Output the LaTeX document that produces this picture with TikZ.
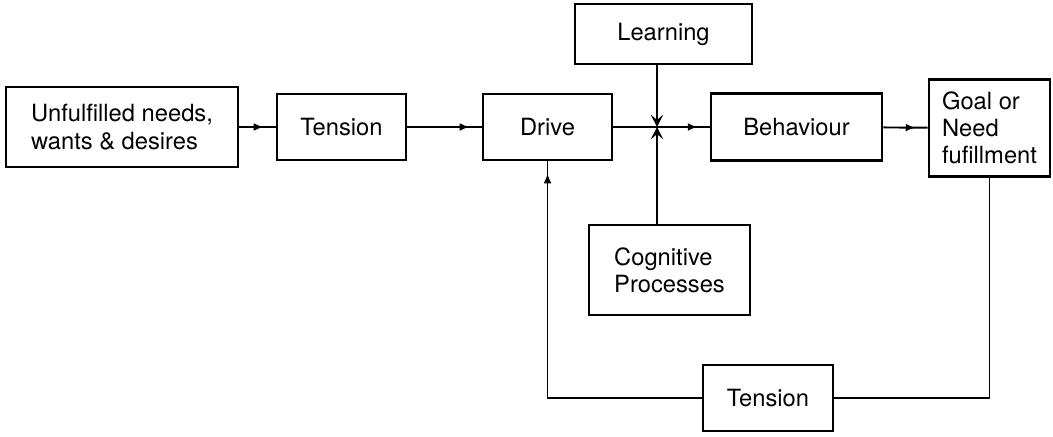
\documentclass[tikz,border=0pt]{standalone}
\usepackage{fontspec}
\setmainfont{TeX Gyre Heros}
\usetikzlibrary{arrows.meta,calc,decorations.markings}

\begin{document}
\begin{tikzpicture}[x=0.02cm,y=-0.02cm,>={Latex[length=5.5pt,width=4.5pt]},
                    font=\fontsize{13.5}{15.5}\selectfont]
				\tikzstyle{blk}=[draw, rectangle, line width=1.5pt, inner sep=0pt, align=left]
				\tikzstyle{conn}=[line width=1.1pt]
				\tikzstyle{flow}=[conn, postaction={decorate},
					decoration={markings, mark=at position -7pt with {\arrow{>}}}]
				\useasboundingbox (0,0) rectangle (1053,436);
					 \node[blk, minimum width=4.64cm, minimum height=1.6cm]  (unf)   at (122,127)   {Unfulfilled needs,\\wants \& desires};
					 \node[blk, minimum width=2.58cm, minimum height=1.32cm] (ten1)  at (341.5,127) {Tension};
					 \node[blk, minimum width=2.58cm, minimum height=1.32cm] (drive) at (547.5,127) {Drive};
					 \node[blk, minimum width=3.54cm, minimum height=1.2cm]  (learn) at (663.5,34)  {Learning};
					 \node[blk, minimum width=3.42cm, minimum height=1.34cm] (beh)   at (796.5,127) {Behaviour};
					 \node[blk, minimum width=2.42cm, minimum height=1.94cm] (goal)  at (989.5,128) {Goal or\\Need\\fufillment};
					 \node[blk, minimum width=3.22cm, minimum height=1.8cm]  (cog)   at (669.5,270) {Cognitive\\Processes};
					 \node[blk, minimum width=2.6cm,  minimum height=1.32cm] (ten2)  at (768,398)   {Tension};
					 \coordinate (j) at (657,127);
					 % main chain
					 \draw[flow] (unf) -- (ten1);
					 \draw[flow] (ten1) -- (drive);
					 \draw[conn] (drive) -- (j);
					 \draw[flow] (j) -- (beh);
					 \draw[flow] (beh) -- (goal);
					 % influences meeting on the chain
					 \draw[conn,-{Stealth[length=7pt,width=7pt,inset=3pt]}] (learn.south -| j) -- (j);
					 \draw[conn,-{Stealth[length=7pt,width=7pt,inset=3pt]}] (cog.north -| j) -- (j);
					 % feedback
					 \draw[conn] (goal.south) |- (ten2.east);
					 \draw[flow] (ten2.west) -| (drive.south);
				\end{tikzpicture}
\end{document}
